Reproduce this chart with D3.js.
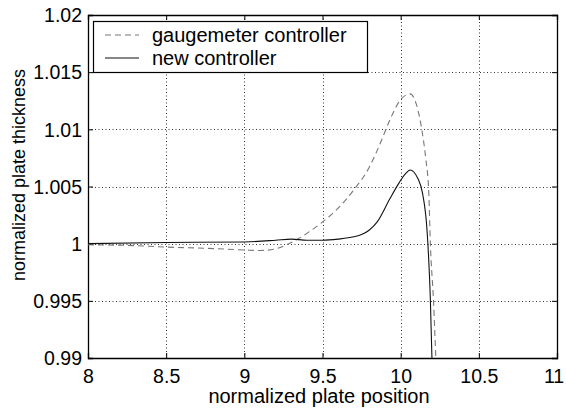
<!DOCTYPE html>
<html>
<head>
<meta charset="utf-8">
<script src="https://cdn.jsdelivr.net/npm/d3@7"></script>
<style>
  body { margin: 0; background: #fff; }
  text { font-family: "Liberation Sans", Arial, sans-serif; fill: #000; }
</style>
</head>
<body>
<svg id="chart" width="566" height="409"></svg>
<script>
// tick values
const xTicks = [8, 8.5, 9, 9.5, 10, 10.5, 11];
const yTicks = [0.99, 0.995, 1, 1.005, 1.01, 1.015, 1.02];

// gaugemeter controller (dashed)
const gaugeX = [8.0, 8.25, 8.5, 8.75, 9.0, 9.1, 9.2, 9.3, 9.4, 9.5, 9.6, 9.7, 9.8, 9.87, 9.93, 10.0, 10.06, 10.1, 10.135, 10.16, 10.18, 10.19, 10.21, 10.225, 10.235];
const gaugeY = [0.9999, 0.99985, 0.9997, 0.9996, 0.99945, 0.9994, 0.99955, 1.0001, 1.0009, 1.0019, 1.0031, 1.0047, 1.0067, 1.0088, 1.0108, 1.0126, 1.0131, 1.0122, 1.0100, 1.0075, 1.0044, 1.0, 0.995, 0.99, 0.987];

// new controller (solid)
const newX = [8.0, 8.5, 9.0, 9.2, 9.3, 9.4, 9.5, 9.6, 9.7, 9.75, 9.8, 9.85, 9.93, 9.98, 10.03, 10.06, 10.11, 10.14, 10.17, 10.19, 10.2, 10.21];
const newY = [1.0000, 1.0001, 1.00015, 1.0003, 1.0004, 1.0003, 1.0003, 1.0004, 1.0006, 1.0008, 1.0012, 1.0019, 1.0039, 1.0051, 1.0061, 1.00644, 1.0057, 1.0044, 1.0009, 0.9951, 0.99, 0.987];

const legendLabels = ["gaugemeter controller", "new controller"];

const W = 566, H = 409;
const margin = { top: 15, right: 9, bottom: 51, left: 88 };
const fs = 20;
const tickFs = 19.5;

const svg = d3.select("#chart");

const x = d3.scaleLinear().domain([8, 11]).range([margin.left, W - margin.right]);
const y = d3.scaleLinear().domain([0.99, 1.02]).range([H - margin.bottom, margin.top]);

svg.append("defs").append("clipPath").attr("id", "clip")
    .append("rect")
    .attr("x", margin.left).attr("y", margin.top)
    .attr("width", x(11) - x(8)).attr("height", y(0.99) - y(1.02));

// grid
const grid = svg.append("g")
    .attr("stroke", "#333")
    .attr("stroke-width", 1)
    .attr("stroke-dasharray", "1,2.5");
grid.selectAll(".gx")
    .data(xTicks.slice(1, -1))
    .join("line")
    .attr("x1", d => Math.round(x(d)) + 0.5).attr("x2", d => Math.round(x(d)) + 0.5)
    .attr("y1", y(1.02)).attr("y2", y(0.99));
grid.selectAll(".gy")
    .data(yTicks.slice(1, -1))
    .join("line")
    .attr("y1", d => Math.round(y(d)) + 0.5).attr("y2", d => Math.round(y(d)) + 0.5)
    .attr("x1", x(8)).attr("x2", x(11));

// axes (ticks inward, box)
const tickLen = 5;
const axB = svg.append("g").attr("transform", `translate(0,${y(0.99)})`)
    .call(d3.axisBottom(x).tickValues(xTicks).tickSize(-tickLen).tickPadding(11).tickFormat(d3.format("")));
const axT = svg.append("g").attr("transform", `translate(0,${y(1.02)})`)
    .call(d3.axisTop(x).tickValues(xTicks).tickSize(-tickLen).tickFormat(""));
const axL = svg.append("g").attr("transform", `translate(${x(8)},0)`)
    .call(d3.axisLeft(y).tickValues(yTicks).tickSize(-tickLen).tickPadding(6).tickFormat(d3.format("")));
const axR = svg.append("g").attr("transform", `translate(${x(11)},0)`)
    .call(d3.axisRight(y).tickValues(yTicks).tickSize(-tickLen).tickFormat(""));

[axB, axT, axL, axR].forEach(a => {
    a.selectAll(".domain").attr("stroke", "#000").attr("stroke-width", 1.3);
    a.selectAll(".tick line").attr("stroke", "#000");
    a.selectAll("text").style("font-size", tickFs + "px").attr("fill", "#000")
        .style("font-family", '"Liberation Sans", Arial, sans-serif');
});
axL.selectAll(".tick text").attr("dy", "0.35em");
// last x label sits right at the edge; nudge it inside
axB.selectAll(".tick text").filter(d => d === 11).attr("dx", -3.5);

// lines
const line = d3.line().x(d => x(d[0])).y(d => y(d[1])).curve(d3.curveMonotoneX);
const plot = svg.append("g").attr("clip-path", "url(#clip)");
plot.append("path")
    .datum(d3.zip(gaugeX, gaugeY))
    .attr("fill", "none")
    .attr("stroke", "#777")
    .attr("stroke-width", 1.1)
    .attr("stroke-dasharray", "6,4")
    .attr("d", line);
plot.append("path")
    .datum(d3.zip(newX, newY))
    .attr("fill", "none")
    .attr("stroke", "#111")
    .attr("stroke-width", 1.1)
    .attr("d", line);

// legend
const lg = svg.append("g");
lg.append("rect")
    .attr("x", 93.5).attr("y", 21.5)
    .attr("width", 274).attr("height", 51)
    .attr("fill", "#fff").attr("stroke", "#000").attr("stroke-width", 1.2);
const rows = [
    { label: legendLabels[0], ly: 35, dash: "6,4", color: "#777" },
    { label: legendLabels[1], ly: 58, dash: null, color: "#111" }
];
rows.forEach(r => {
    lg.append("line")
        .attr("x1", 105).attr("x2", 139)
        .attr("y1", r.ly).attr("y2", r.ly)
        .attr("stroke", r.color).attr("stroke-width", 1.1)
        .attr("stroke-dasharray", r.dash);
    lg.append("text")
        .attr("x", 152).attr("y", r.ly + 7)
        .style("font-size", fs + "px")
        .text(r.label);
});

// axis labels
svg.append("text")
    .attr("x", 319).attr("y", 403)
    .attr("text-anchor", "middle")
    .style("font-size", fs + "px")
    .text("normalized plate position");
svg.append("text")
    .attr("transform", "translate(25,175) rotate(-90)")
    .attr("text-anchor", "middle")
    .style("font-size", "18px")
    .text("normalized plate thickness");
</script>
</body>
</html>
